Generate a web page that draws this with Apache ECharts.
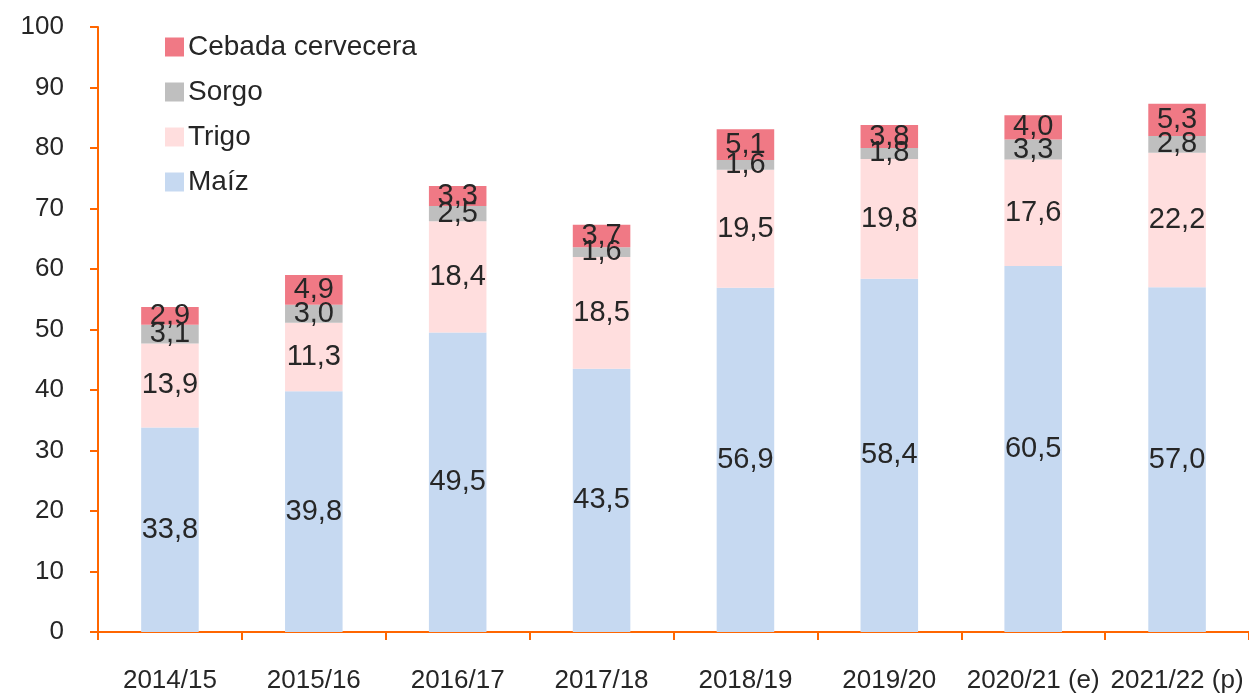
<!DOCTYPE html>
<html><head><meta charset="utf-8">
<script src="https://cdn.jsdelivr.net/npm/echarts@6/dist/echarts.min.js"></script>
<style>html,body{margin:0;padding:0;background:#fff}#c{width:1249px;height:694px}</style>
</head><body><div id="c"></div>
<script>
const categories = ['2014/15','2015/16','2016/17','2017/18','2018/19','2019/20','2020/21 (e)','2021/22 (p)'];
const maiz   = [33.8, 39.8, 49.5, 43.5, 56.9, 58.4, 60.5, 57.0];
const trigo  = [13.9, 11.3, 18.4, 18.5, 19.5, 19.8, 17.6, 22.2];
const sorgo  = [3.1, 3.0, 2.5, 1.6, 1.6, 1.8, 3.3, 2.8];
const cebada = [2.9, 4.9, 3.3, 3.7, 5.1, 3.8, 4.0, 5.3];
const yTicks = [0,10,20,30,40,50,60,70,80,90,100];

const FONT = '"Liberation Sans", sans-serif';
const TXT = '#262626';
const fmt = v => v.toFixed(1).replace('.', ',');
function mk(name, data, color) {
  return {
    name, type: 'bar', stack: 't', data, barWidth: '40%',
    itemStyle: { color },
    label: { show: true, position: 'inside', color: TXT, fontFamily: FONT, fontSize: 29,
      formatter: p => fmt(p.value) },
    emphasis: { disabled: true }
  };
}
const chart = echarts.init(document.getElementById('c'), null, { renderer: 'canvas' });
chart.setOption({
  animation: false,
  grid: { left: 98, width: 1157, top: 27, bottom: 61, containLabel: false },
  legend: {
    data: ['Cebada cervecera','Sorgo','Trigo','Maíz'],
    orient: 'vertical', left: 160, top: 28, itemWidth: 19, itemHeight: 19, itemGap: 17,
    icon: 'rect',
    textStyle: { fontFamily: FONT, fontSize: 28, color: TXT, padding: [0,0,0,-1] }
  },
  xAxis: {
    type: 'category', data: categories,
    axisLine: { lineStyle: { color: '#FF6600', width: 2 } },
    axisTick: { show: true, length: 8, lineStyle: { color: '#FF6600', width: 2 } },
    axisLabel: { fontFamily: FONT, fontSize: 26, color: TXT, margin: 36, interval: 0 }
  },
  yAxis: {
    type: 'value', min: 0, max: 100, interval: 10,
    axisLine: { show: true, lineStyle: { color: '#FF6600', width: 2 } },
    axisTick: { show: true, length: 8, lineStyle: { color: '#FF6600', width: 2 } },
    splitLine: { show: false },
    axisLabel: { fontFamily: FONT, fontSize: 26, color: TXT, margin: 34,
      formatter: v => yTicks.includes(v) ? String(v) : '' }
  },
  series: [
    mk('Maíz', maiz, '#C6D9F1'),
    mk('Trigo', trigo, '#FFDEDE'),
    mk('Sorgo', sorgo, '#BFBFBF'),
    mk('Cebada cervecera', cebada, '#F07985')
  ]
});
</script></body></html>
